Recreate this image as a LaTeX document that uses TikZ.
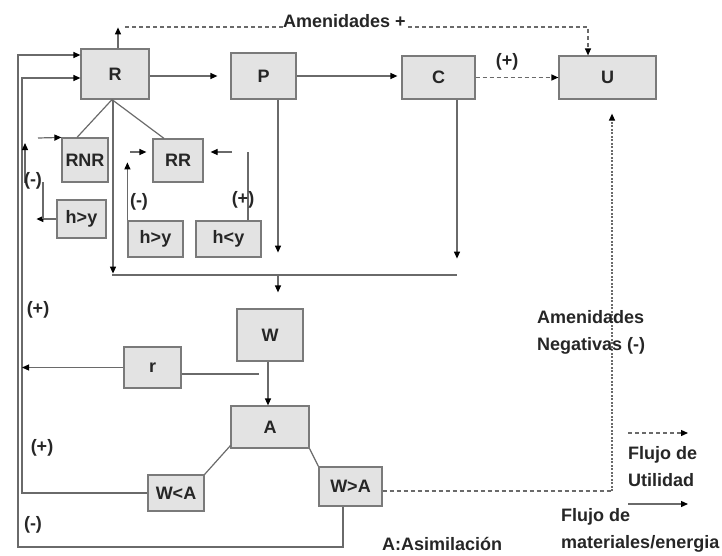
\documentclass[tikz,border=0pt]{standalone}
\usepackage{fontspec}
\setmainfont{Liberation Sans}
\usetikzlibrary{arrows.meta,calc}
\definecolor{lnc}{HTML}{6A6A6A}
\definecolor{bxf}{HTML}{E3E3E3}
\definecolor{bxd}{HTML}{7A7A7A}
\begin{document}
\begin{tikzpicture}[x=1pt,y=-1pt,
  box/.style={draw=bxd, fill=bxf, line width=1.2pt, inner sep=0pt, text=black!85, font=\bfseries\fontsize{18}{20}\selectfont},
  lbl/.style={inner sep=0pt, text=black!85, font=\bfseries\fontsize{18}{27}\selectfont},
  lnk/.style={draw=lnc, line width=1.2pt},
  tip/.style={-{Triangle[length=7pt,width=6pt,color=black]}},
  arr/.style={lnk, tip},
  dsh/.style={lnk, dash pattern=on 4pt off 3pt},
  dtt/.style={lnk, dash pattern=on 2pt off 1.5pt}]
\useasboundingbox (0,0) rectangle (722,555);

% boxes
\node[box, minimum width=68pt, minimum height=50pt] (R) at (115,74) {R};
\node[box, minimum width=65pt, minimum height=46pt] (P) at (263.5,76) {P};
\node[box, minimum width=73pt, minimum height=43pt] (C) at (438.5,77.5) {C};
\node[box, minimum width=97pt, minimum height=43pt] (U) at (607.5,77.5) {U};
\node[box, minimum width=46pt, minimum height=44pt] (RNR) at (85,160) {RNR};
\node[box, minimum width=50pt, minimum height=43pt] (RR) at (178,160.5) {RR};
\node[box, minimum width=49pt, minimum height=38pt] (h1) at (81.5,219) {h>y};
\node[box, minimum width=55pt, minimum height=36pt] (h2) at (155.5,239) {h>y};
\node[box, minimum width=65pt, minimum height=36pt] (hly) at (228.5,239) {h<y};
\node[box, minimum width=66pt, minimum height=52pt] (W) at (270,335) {W};
\node[box, minimum width=57pt, minimum height=41pt] (r) at (152.5,367.5) {r};
\node[box, minimum width=78pt, minimum height=42pt] (A) at (270,427) {A};
\node[box, minimum width=56pt, minimum height=36pt] (WlA) at (176,493) {W<A};
\node[box, minimum width=63pt, minimum height=39pt] (WgA) at (350.5,486.5) {W>A};

% top amenities line
\node[lbl, anchor=base west] (am) at (283,27) {Amenidades +};
\coordinate (t0) at ($(R.north)+(3,0)$);
\coordinate (t1) at ($(R.north)+(3,-21)$);
\coordinate (t2) at (125,27);
\coordinate (uT) at ($(U.north)+(-19.5,0)$);
\draw[arr] (t0) -- (t1);
\draw[dsh] (t2) -- (t2 -| am.west);
\draw[dsh, tip] ($(am.base east)+(2,0)$) -| (uT);

% main chain
\draw[arr, shorten >=13pt] (R.east |- P.west) -- (P.west);
\draw[arr, shorten >=4pt] (P.east) -- (P.east -| C.west);
\draw[dsh, tip] (C.east) -- (C.east -| U.west);
\node[lbl] (pl1) at (507,62) {(+)};

% outer and inner loops
\coordinate (Lo) at (18,547);
\coordinate (Li) at (22,491);
\draw[arr] ($(WgA.south)+(-7.5,0)$) |- (Lo) |- ($(R.west)+(0,-19)$);
\draw[arr] (WlA.west) -- (Li |- WlA.west) |- ($(R.west)+(0,4)$);
\draw[arr] (r.west) -- (Li |- r.west);
\draw[lnk] ($(r.east)+(0,6.5)$) -- ++(77,0);

% W, A and branches
\draw[arr] ($(W.south)+(-2,0)$) -- ($(A.north)+(-2,0)$);
\draw[lnk] ($(A.south west)+(0,-3)$) -- (WlA.north east);
\draw[lnk] (A.south east) -- (WgA.north west);

% negative amenities
\coordinate (k) at (612,491);
\coordinate (uB) at ($(U.south)+(4.5,14)$);
\draw[dsh] ($(WgA.east)+(0,4.5)$) -- (k);
\draw[dtt, tip] (k) -- (uB);

% R branches
\coordinate (Rb) at ($(R.south)+(-3,0)$);
\draw[lnk] (Rb) -- ($(RNR.north)+(-8,0)$);
\draw[lnk] (Rb) -- ($(RR.north)+(-14,0)$);
\draw[arr] ($(R.south)+(-2,0)$) -- ++(0,174);

% collector bar
\coordinate (b1) at (112,275);
\coordinate (b2) at (457,275);
\coordinate (J) at (278,275);
\draw[lnk] (b1) -- (b2);
\draw[arr] ($(P.south)+(14.5,0)$) -- ++(0,153);
\draw[arr] ($(C.south)+(18.5,0)$) -- ++(0,159);
\draw[arr, shorten >=16pt] (J) -- (J |- W.north);

% left small loop RNR
\coordinate (a1) at (38,138);
\coordinate (a2) at (43,182);
\coordinate (a3) at (25,183);
\coordinate (a4) at (25,143);
\draw[arr] (a1) -- (RNR.north west);
\draw[arr] (h1.west) -- ++(-20,0);
\draw[lnk] (a2) -- (a2 |- h1.west);
\draw[arr] (a3) -- (a4);
\node[lbl] (m1) at (33,181) {(-)};

% RR feedbacks
\coordinate (c1) at (130,152);
\coordinate (c2) at (248,152);
\coordinate (c3) at (232,152);
\draw[arr] (h2.north west) -- ++(0,-58);
\draw[arr, shorten >=6pt] (c1) -- (c1 -| RR.west);
\node[lbl] (m2) at (139,202) {(-)};
\draw[lnk] (c2 |- hly.north) -- (c2);
\draw[arr, shorten >=7pt] (c3) -- (c3 -| RR.east);
\node[lbl] (p2) at (243,200) {(+)};

% loop labels
\node[lbl] (p3) at (38,310) {(+)};
\node[lbl] (p4) at (42,448) {(+)};
\node[lbl] (m3) at (33,525) {(-)};

% texts
\node[lbl, anchor=north west, align=left] (neg) at (537,310) {Amenidades\\Negativas (-)};
\node[lbl, anchor=base west] (asim) at (382,550) {A:Asimilación};

% legend
\coordinate (l1) at (628,433);
\coordinate (l2) at (688,433);
\coordinate (l3) at (628,504);
\coordinate (l4) at (688,504);
\draw[dsh, tip] (l1) -- (l2);
\node[lbl, anchor=north west, align=left] (fu) at (628,446) {Flujo de\\Utilidad};
\draw[arr] (l3) -- (l4);
\node[lbl, anchor=north west, align=left] (fm) at (561,508) {Flujo de\\materiales/energia};
\end{tikzpicture}
\end{document}
